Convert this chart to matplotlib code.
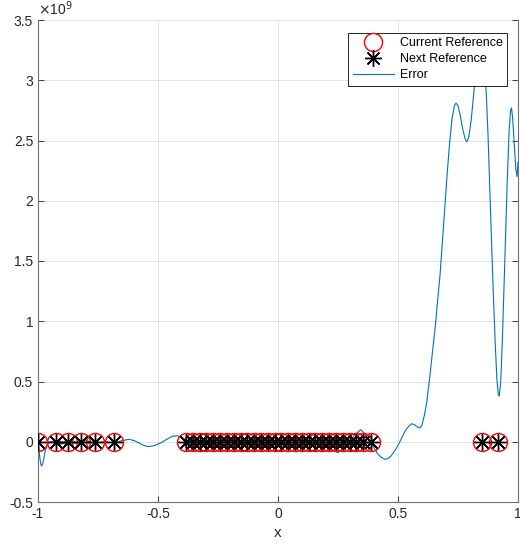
import matplotlib
matplotlib.use('Agg')
import matplotlib.pyplot as plt

plt.rcParams['font.family'] = ['Liberation Sans', 'DejaVu Sans']

# reference points (x), all lying on zero
ref_x = [-1.0, -0.925, -0.877, -0.821, -0.763, -0.683,
         -0.383, -0.355, -0.327, -0.298, -0.270, -0.241, -0.213, -0.185,
         -0.156, -0.128, -0.100, -0.071, -0.043, -0.014, 0.014, 0.043,
         0.071, 0.100, 0.128, 0.156, 0.185, 0.213, 0.241, 0.270, 0.298,
         0.327, 0.355, 0.386,
         0.850, 0.917]
ref_y = [0.0] * len(ref_x)

# error curve (units of 1e9)
err_x = [-1.0, -0.996, -0.992, -0.988, -0.984, -0.980, -0.975, -0.970,
         -0.964, -0.957, -0.948, -0.93, -0.90, -0.87, -0.84, -0.80, -0.76,
         -0.72, -0.68, -0.65, -0.62, -0.60, -0.58, -0.56, -0.54, -0.52,
         -0.50, -0.48, -0.46, -0.44, -0.42, -0.40, -0.385, -0.37, -0.35,
         -0.30, -0.25, -0.20, -0.15, -0.10, -0.05, 0.0, 0.04, 0.08, 0.11,
         0.145, 0.18, 0.21, 0.25, 0.29, 0.32, 0.345, 0.37, 0.385, 0.40,
         0.415, 0.43, 0.445, 0.458, 0.47, 0.485, 0.50, 0.515, 0.53, 0.545,
         0.558, 0.57, 0.582, 0.592, 0.60, 0.61, 0.62, 0.633, 0.645, 0.655,
         0.665, 0.675, 0.69, 0.704, 0.715, 0.725, 0.735, 0.742, 0.75, 0.76,
         0.77, 0.78, 0.787, 0.795, 0.805, 0.815, 0.825, 0.835, 0.845, 0.855,
         0.862, 0.868, 0.875, 0.885, 0.895, 0.905, 0.912, 0.918, 0.922,
         0.928, 0.935, 0.945, 0.955, 0.963, 0.969, 0.973, 0.978, 0.985,
         0.991, 0.996, 1.0]
err_y = [0.0, -0.07, -0.14, -0.19, -0.20, -0.18, -0.13, -0.08,
         -0.04, -0.01, 0.0, 0.0, -0.02, 0.01, -0.01, 0.01, -0.01,
         0.0, -0.01, 0.01, 0.02, 0.01, -0.01, -0.03, -0.04, -0.035,
         -0.02, 0.0, 0.025, 0.045, 0.05, 0.035, 0.015, 0.0, -0.01,
         0.01, -0.01, 0.01, -0.01, 0.01, -0.02, 0.02, -0.03, -0.06, 0.0,
         0.06, 0.02, -0.05, -0.09, -0.03, 0.06, 0.10, 0.05, 0.0, -0.05,
         -0.10, -0.13, -0.145, -0.14, -0.12, -0.08, -0.03, 0.03, 0.09, 0.13,
         0.15, 0.14, 0.12, 0.115, 0.14, 0.22, 0.33, 0.55, 0.77, 0.95,
         1.17, 1.38, 1.80, 2.20, 2.48, 2.68, 2.79, 2.81, 2.79, 2.70,
         2.59, 2.51, 2.49, 2.53, 2.67, 2.88, 3.08, 3.23, 3.29, 3.22,
         3.08, 2.88, 2.55, 1.95, 1.35, 0.82, 0.52, 0.39, 0.38,
         0.50, 0.85, 1.50, 2.15, 2.58, 2.75, 2.77, 2.68, 2.45,
         2.26, 2.20, 2.32]

x_ticks = [-1, -0.5, 0, 0.5, 1]
x_labels = ['-1', '-0.5', '0', '0.5', '1']
y_ticks = [-0.5, 0, 0.5, 1, 1.5, 2, 2.5, 3, 3.5]
y_labels = ['-0.5', '0', '0.5', '1', '1.5', '2', '2.5', '3', '3.5']

fig = plt.figure(figsize=(5.2, 5.46), dpi=100)
ax = fig.add_axes([38 / 520, 1 - 502 / 546, 480 / 520, 482 / 546])

ax.plot(ref_x, ref_y, 'o', ms=13, mfc='none', mec='#ff0000', mew=1.0,
        label='Current Reference', zorder=3)
ax.plot(ref_x, ref_y, marker=(8, 2, 0), ls='none', ms=12, color='black',
        mew=1.0, label='Next Reference', zorder=4)
ax.plot(err_x, err_y, color='#0072BD', lw=0.8, label='Error', zorder=2)

ax.set_xlim(-1, 1)
ax.set_ylim(-0.5, 3.5)
ax.set_xticks(x_ticks)
ax.set_xticklabels(x_labels)
ax.set_yticks(y_ticks)
ax.set_yticklabels(y_labels)
ax.tick_params(direction='in', length=4, width=0.6, labelsize=10,
               colors='#262626', right=True, top=False)
ax.grid(True, color='#e3e3e3', lw=0.7)
ax.set_axisbelow(True)
for side in ['left', 'bottom', 'right']:
    ax.spines[side].set_color('#707070')
    ax.spines[side].set_linewidth(0.8)
ax.spines['top'].set_visible(False)

ax.set_xlabel('x', fontsize=11, color='#262626', labelpad=4)
ax.text(0.0, 1.005, r'$\times$10$^9$', transform=ax.transAxes,
        fontsize=10, color='#262626', ha='left', va='bottom')

leg = ax.legend(loc='upper right', bbox_to_anchor=(0.977, 0.973),
                borderaxespad=0, fontsize=9, fancybox=False,
                edgecolor='black', framealpha=1, handlelength=3.3,
                handletextpad=0.45, labelspacing=0.32, borderpad=0.35)
leg.get_frame().set_linewidth(0.6)

fig.savefig('out.png', dpi=100)
